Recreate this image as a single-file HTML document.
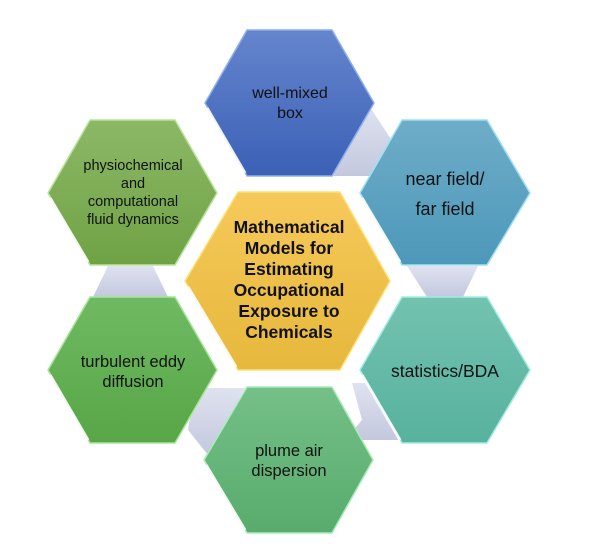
<!DOCTYPE html>
<html><head><meta charset="utf-8"><style>
html,body{margin:0;padding:0;background:#fff;}
svg{display:block;}
text{font-family:"Liberation Sans",sans-serif;fill:#111;text-anchor:middle;}
</style></head><body>
<svg width="600" height="554" viewBox="0 0 600 554" xmlns="http://www.w3.org/2000/svg">
<defs>
<linearGradient id="gb" x1="0" y1="0" x2="0" y2="1"><stop offset="0" stop-color="#6585cd"/><stop offset="1" stop-color="#3b60b6"/></linearGradient>
<linearGradient id="gg1" x1="0" y1="0" x2="0" y2="1"><stop offset="0" stop-color="#8cb866"/><stop offset="1" stop-color="#6fa245"/></linearGradient>
<linearGradient id="gc" x1="0" y1="0" x2="0" y2="1"><stop offset="0" stop-color="#6eadc8"/><stop offset="1" stop-color="#4d98b9"/></linearGradient>
<linearGradient id="gy" x1="0" y1="0" x2="0" y2="1"><stop offset="0" stop-color="#f6c95a"/><stop offset="1" stop-color="#e6b83c"/></linearGradient>
<linearGradient id="gg2" x1="0" y1="0" x2="0" y2="1"><stop offset="0" stop-color="#6fba62"/><stop offset="1" stop-color="#58a647"/></linearGradient>
<linearGradient id="gt" x1="0" y1="0" x2="0" y2="1"><stop offset="0" stop-color="#73c2b0"/><stop offset="1" stop-color="#57b29e"/></linearGradient>
<linearGradient id="gp" x1="0" y1="0" x2="0" y2="1"><stop offset="0" stop-color="#75c088"/><stop offset="1" stop-color="#58ab6d"/></linearGradient>
<linearGradient id="gs" x1="0" y1="0" x2="0" y2="1"><stop offset="0" stop-color="#dfe2ef"/><stop offset="1" stop-color="#c3c8de"/></linearGradient>
</defs>
<polygon points="370,107 398,150 385,176 333,176" fill="url(#gs)"/>
<polygon points="108,266 153,266 168,297 93,297" fill="url(#gs)"/>
<polygon points="407,266 478,266 463,297 427,297" fill="url(#gs)"/>
<polygon points="195,388 245,388 208,455 188,430" fill="url(#gs)"/>
<polygon points="352,383 372,383 398,440 345,440 362,420" fill="url(#gs)"/>
<g stroke-width="1.5">
<polygon points="247,30 332,30 374,103 332,176 247,176 205,103" fill="url(#gb)" stroke="#8fb0ea"/>
<polygon points="90,120 175,120 217,193 175,265 90,265 48,193" fill="url(#gg1)" stroke="#b9e39a"/>
<polygon points="402,120 487,120 530,193 487,265 402,265 360,193" fill="url(#gc)" stroke="#9fe0f2"/>
<polygon points="238,192 340,192 390,281 340,370 238,370 185,281" fill="url(#gy)" stroke="#fbe27a"/>
<polygon points="90,297 175,297 217,370 175,443 90,443 48,370" fill="url(#gg2)" stroke="#a9e49a"/>
<polygon points="402,297 487,297 530,370 487,443 402,443 360,370" fill="url(#gt)" stroke="#a3ece0"/>
<polygon points="247,387 332,387 373,460 332,533 247,533 204,460" fill="url(#gp)" stroke="#a9ecb9"/>
</g>
<g stroke="#fff" stroke-width="3" opacity="0.85">
<line x1="207" y1="108" x2="245" y2="173"/>
<line x1="50" y1="198" x2="88" y2="262"/>
<line x1="362" y1="198" x2="400" y2="262"/>
<line x1="188" y1="287" x2="236" y2="367"/>
<line x1="50" y1="375" x2="88" y2="440"/>
<line x1="362" y1="375" x2="400" y2="440"/>
<line x1="206" y1="465" x2="245" y2="530"/>
</g>
<g font-size="16">
<text x="290" y="98">well-mixed</text>
<text x="290" y="118">box</text>
<text x="133" y="170" font-size="14.5">physiochemical</text>
<text x="133" y="188" font-size="14.5">and</text>
<text x="133" y="206" font-size="14.5">computational</text>
<text x="133" y="224" font-size="14.5">fluid dynamics</text>
<text x="445" y="185" font-size="18">near field/</text>
<text x="445" y="215" font-size="18">far field</text>
<text x="133" y="367" font-size="16.5">turbulent eddy</text>
<text x="133" y="387" font-size="16.5">diffusion</text>
<text x="445" y="377" font-size="17.5">statistics/BDA</text>
<text x="289" y="456" font-size="16.5">plume air</text>
<text x="289" y="476" font-size="16.5">dispersion</text>
</g>
<g font-size="17.5" font-weight="bold">
<text x="289" y="233">Mathematical</text>
<text x="289" y="254">Models for</text>
<text x="289" y="275">Estimating</text>
<text x="289" y="296">Occupational</text>
<text x="289" y="317">Exposure to</text>
<text x="289" y="338">Chemicals</text>
</g>
</svg>
</body></html>
